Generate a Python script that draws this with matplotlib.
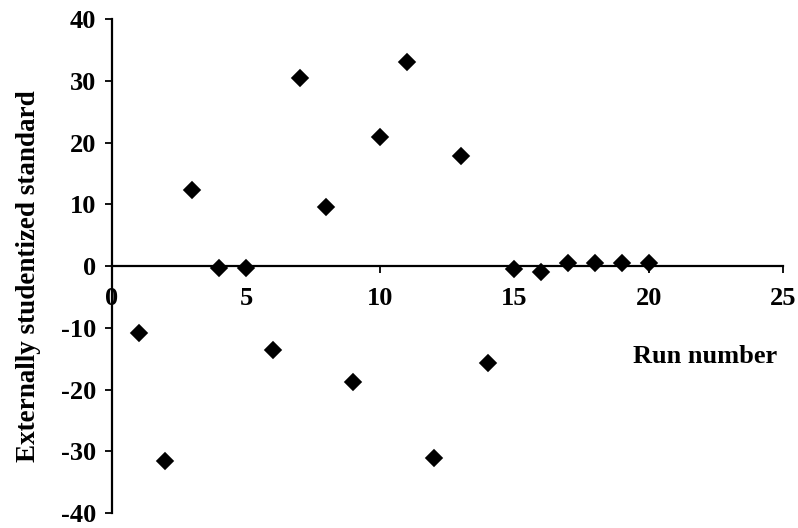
import matplotlib.pyplot as plt

# run number vs externally studentized residual
run = [1, 2, 3, 4, 5, 6, 7, 8, 9, 10, 11, 12, 13, 14, 15, 16, 17, 18, 19, 20]
resid = [-10.9, -31.6, 12.3, -0.3, -0.3, -13.5, 30.4, 9.6, -18.8, 20.9,
         33.0, -31.0, 17.8, -15.7, -0.4, -0.9, 0.5, 0.5, 0.5, 0.5]

plt.rcParams["font.family"] = ["Liberation Serif", "DejaVu Serif"]
plt.rcParams["font.weight"] = "bold"
plt.rcParams["axes.unicode_minus"] = False

fig = plt.figure(figsize=(7.98, 5.28), dpi=100)
ax = fig.add_axes([0.140, 0.028, 0.841, 0.936])

ax.plot(run, resid, linestyle="none", marker="D", markersize=8.5,
        markeredgewidth=1.2, color="black", markeredgecolor="black")

ax.set_xlim(0, 25)
ax.set_ylim(-40, 40)
ax.set_xticks([0, 5, 10, 15, 20, 25])
ax.set_yticks(range(-40, 41, 10))

ax.spines["bottom"].set_position(("data", 0))
ax.spines["top"].set_visible(False)
ax.spines["right"].set_visible(False)
for s in ("left", "bottom"):
    ax.spines[s].set_linewidth(1.6)

ax.tick_params(axis="both", direction="out", length=5, width=1.3,
               labelsize=19)
ax.tick_params(axis="y", pad=6)
ax.tick_params(axis="x", pad=10)
for lab in ax.get_xticklabels() + ax.get_yticklabels():
    lab.set_fontweight("bold")

ax.set_xlabel("Run number", fontsize=19, fontweight="bold")
ax.xaxis.set_label_coords(0.884, 0.34)
ax.set_ylabel("Externally studentized standard", fontsize=19.5,
              fontweight="bold")
ax.yaxis.set_label_coords(-0.105, 0.48)

fig.savefig("out.png", dpi=100)
